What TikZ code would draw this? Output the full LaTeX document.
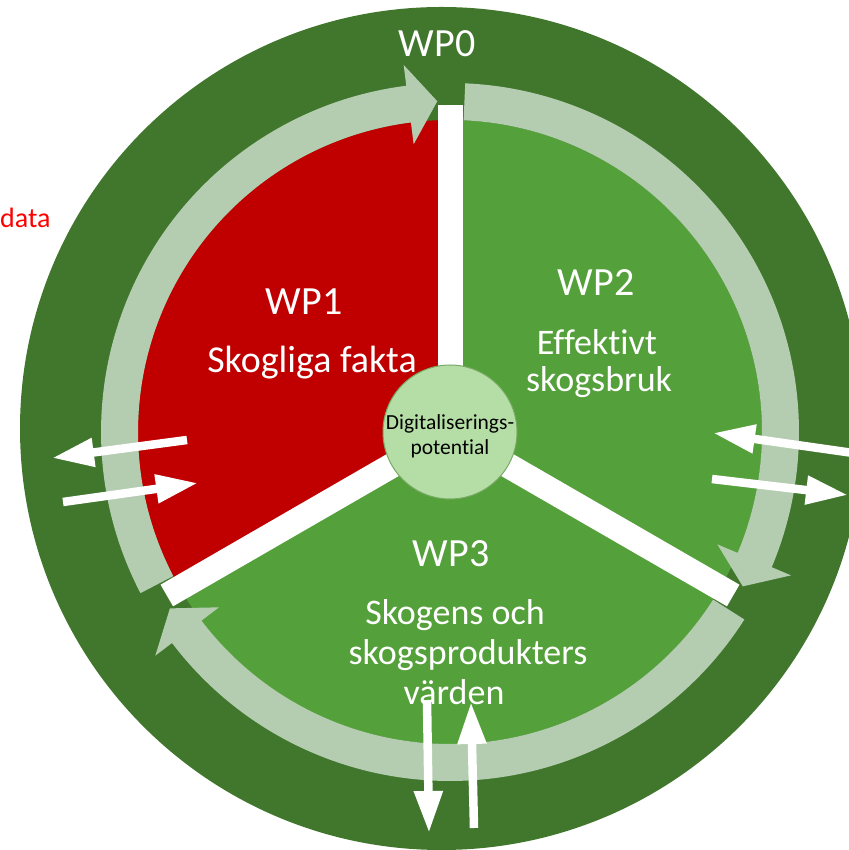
\documentclass[tikz,border=0pt]{standalone}
\usepackage{fontspec}
\setmainfont{Carlito}[RawFeature=-liga]
\usetikzlibrary{arrows.meta,calc}
\definecolor{outergreen}{RGB}{65,119,45}
\definecolor{piegreen}{RGB}{84,160,58}
\definecolor{wpred}{RGB}{192,0,0}
\definecolor{ringlight}{RGB}{180,205,176}
\definecolor{corefill}{RGB}{181,222,166}
\definecolor{coreline}{RGB}{120,170,100}
\newcommand\ringarrow[3]{%
  \fill[ringlight] (#1:312) arc[start angle=#1,end angle=#2,radius=312]
    -- (#2:290) -- (#3:331) -- (#2:370) -- (#2:349)
    arc[start angle=#2,end angle=#1,radius=349] -- cycle;}
\tikzset{
  wptitle/.style={text=white, inner sep=0pt, anchor=base, font=\fontsize{40}{40}\selectfont},
  wptext/.style={text=white, inner sep=0pt, anchor=base, align=center, font=\fontsize{38}{40}\selectfont},
  wptextsm/.style={wptext, font=\fontsize{36}{40}\selectfont},
  flowarrow/.style={draw=white, line width=8.5pt, -{Triangle[length=42pt,width=27pt]}},
  sepband/.style={draw=white, line width=25pt}
}
\begin{document}
\begin{tikzpicture}[x=1pt,y=1pt]
\useasboundingbox (0,0) rectangle (848,850);
% outer ring WP0
\fill[outergreen] (441.5,421.5) circle[radius=421.5];
\coordinate (C) at (450,418);
\begin{scope}[shift={(C)}]
  \fill[wpred] (0,0) -- (90:312) arc[start angle=90,end angle=210,radius=312] -- cycle;
  \fill[piegreen] (0,0) -- (-30:312) arc[start angle=-30,end angle=90,radius=312] -- cycle;
  \fill[piegreen] (0,0) -- (210:312) arc[start angle=210,end angle=330,radius=312] -- cycle;
  \foreach \a in {90,210,330} \draw[sepband] (0,0) -- (\a:327);
  \ringarrow{207.5}{97.2}{92.2}
  \ringarrow{87.5}{-22.8}{-27.8}
  \ringarrow{-32.5}{-142.8}{-147.8}
\end{scope}
\node[circle, fill=corefill, draw=coreline, line width=1pt, minimum size=134pt, inner sep=0pt] (core) at (C) {};
\node[inner sep=0pt, anchor=base, align=center, font=\fontsize{21.5}{25}\selectfont] (coretext) at (450,395) {Digitaliserings-\\potential};
% labels
\node[wptitle] (wp0) at (437,793) {WP0};
\node[wptitle] (wp1) at (304,535) {WP1};
\node[wptext] (wp1t) at (312,477) {Skogliga fakta};
\node[wptitle] (wp2) at (596,554) {WP2};
\node[wptextsm] (wp2ta) at (597,495) {Effektivt};
\node[wptextsm] (wp2tb) at (599,458) {skogsbruk};
\node[wptitle] (wp3) at (451,283) {WP3};
\node[wptextsm] (wp3ta) at (455,225) {Skogens och};
\node[wptextsm] (wp3tb) at (468,185) {skogsprodukters};
\node[wptextsm] (wp3tc) at (454,145) {värden};
\node[text=red, inner sep=0pt, anchor=base west, font=\fontsize{28}{30}\selectfont] (data) at (0,622) {data};
% flow arrows
\coordinate (l1s) at (187,410); \coordinate (l1e) at (52,392);
\coordinate (l2s) at (63,348);  \coordinate (l2e) at (198,367);
\coordinate (r1s) at (860,396); \coordinate (r1e) at (713,417);
\coordinate (r2s) at (712,371); \coordinate (r2e) at (848,355);
\coordinate (b1s) at (427,150); \coordinate (b1e) at (429,17);
\coordinate (b2s) at (474,22);  \coordinate (b2e) at (471,148);
\draw[flowarrow] (l1s) -- (l1e);
\draw[flowarrow] (l2s) -- (l2e);
\draw[flowarrow] (r1s) -- (r1e);
\draw[flowarrow] (r2s) -- (r2e);
\draw[flowarrow] (b1s) -- (b1e);
\draw[flowarrow] (b2s) -- (b2e);
\end{tikzpicture}
\end{document}
